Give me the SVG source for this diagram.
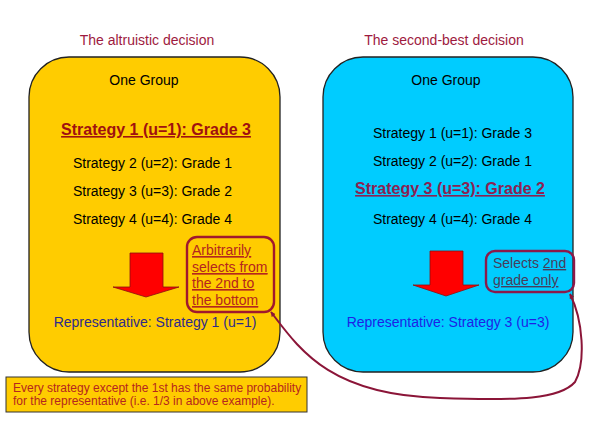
<svg xmlns="http://www.w3.org/2000/svg" width="600" height="423" viewBox="0 0 600 423">
<defs>
<style>
text{font-family:"Liberation Sans",Arial,sans-serif;font-size:14px}
.title{fill:#9e1a40;text-anchor:middle}
.c{text-anchor:middle;fill:#000}
.box{stroke:#222;stroke-width:1.3}
.bold{font-weight:bold;font-size:16px;text-decoration:underline}
.arrow{fill:#ff0000;stroke:#8a1010;stroke-width:0.8}
.callout{fill:none;stroke-width:2.4}
.u{text-decoration:underline}
.conn{fill:none;stroke:#8b1538;stroke-width:2}
</style>
<marker id="ah" viewBox="0 0 10 10" refX="9" refY="5" markerWidth="5" markerHeight="5" orient="auto-start-reverse" markerUnits="userSpaceOnUse">
<path d="M0,0 L10,5 L0,10 z" fill="#8b1538"/>
</marker>
</defs>
<rect width="600" height="423" fill="#fff"/>

<g id="left-group">
<text class="title" x="147" y="45">The altruistic decision</text>
<rect class="box" x="29" y="57" width="251" height="315" rx="40" ry="40" fill="#ffcc00"/>
<text class="c" x="144" y="85">One Group</text>
<text class="c bold" x="156" y="135" fill="#a01010" style="fill:#a01010">Strategy 1 (u=1): Grade 3</text>
<text class="c" x="152.5" y="168">Strategy 2 (u=2): Grade 1</text>
<text class="c" x="152.5" y="196">Strategy 3 (u=3): Grade 2</text>
<text class="c" x="152.5" y="224">Strategy 4 (u=4): Grade 4</text>
<path class="arrow" d="M130,253 H163 V287 H179 L146,297 L113,287 H130 Z"/>
<text x="155" y="327" text-anchor="middle" fill="#2e2a8a">Representative: Strategy 1 (u=1)</text>
</g>

<g id="left-callout">
<rect class="callout" x="187" y="237" width="87" height="75" rx="10" ry="10" stroke="#a0182e"/>
<g fill="#b5261e" class="u">
<text class="u" x="192" y="255">Arbitrarily</text>
<text class="u" x="192" y="272">selects from</text>
<text class="u" x="192" y="288">the 2nd to</text>
<text class="u" x="192" y="305">the bottom</text>
</g>
</g>

<g id="right-group">
<text class="title" x="444" y="45">The second-best decision</text>
<rect class="box" x="323" y="57" width="250" height="315" rx="40" ry="40" fill="#00ccff"/>
<text class="c" x="446" y="85">One Group</text>
<text class="c" x="452.5" y="138">Strategy 1 (u=1): Grade 3</text>
<text class="c" x="452.5" y="166">Strategy 2 (u=2): Grade 1</text>
<text class="c bold" x="450" y="194" style="fill:#8b2252">Strategy 3 (u=3): Grade 2</text>
<text class="c" x="452.5" y="224">Strategy 4 (u=4): Grade 4</text>
<path class="arrow" d="M430,251 H463 V285 H479 L446,296 L413,285 H430 Z"/>
<text x="448" y="327" text-anchor="middle" fill="#1f1fe6">Representative: Strategy 3 (u=3)</text>
</g>

<g id="right-callout">
<rect class="callout" x="486" y="251" width="88" height="41" rx="9" ry="9" stroke="#8b1a4a"/>
<text x="493" y="268" fill="#483d5b">Selects <tspan class="u">2nd</tspan></text>
<text class="u" x="493" y="285" fill="#483d5b">grade only</text>
</g>

<g id="footnote">
<rect x="6" y="377" width="301" height="35" fill="#ffcc00" stroke="#333" stroke-width="1"/>
<text x="13" y="392" font-size="12" style="font-size:12px" fill="#b5261e">Every strategy except the 1st has the same probability</text>
<text x="13" y="405" style="font-size:12px" fill="#b5261e">for the representative (i.e. 1/3 in above example).</text>
</g>

<g id="connectors">
<path class="conn" d="M271,312 C300,350 330,395 440,398 C520,401 560,399 575,382 C586,362 583,320 570,294" marker-start="url(#ah)" marker-end="url(#ah)"/>
</g>
</svg>
